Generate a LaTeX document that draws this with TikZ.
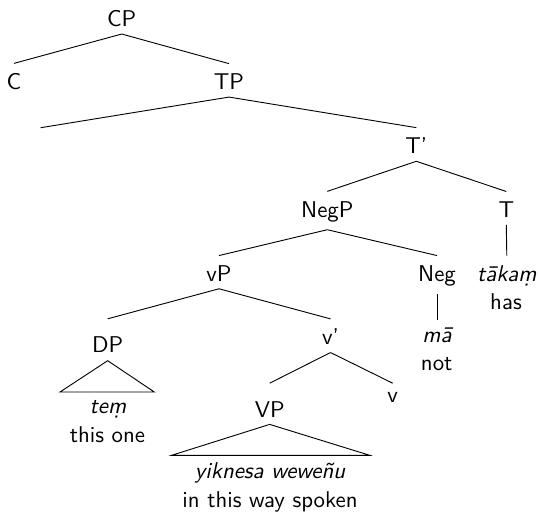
\documentclass[tikz,border=0pt]{standalone}
\begin{document}
\begin{tikzpicture}[x=0.438pt,y=-0.438pt,
  lab/.style={inner sep=0pt, anchor=base, font=\sffamily},
  leaf/.style={lab, font=\sffamily\itshape},
  branch/.style={draw, line width=0.4pt}]
\useasboundingbox (0,0) rectangle (538,513);
% labels
\node[lab] (cp) at (121.7,26) {CP};
\node[lab] (c) at (14,89.3) {C};
\node[lab] (tp) at (229,89.3) {TP};
\coordinate (tpspec) at (40.7,127.7);
\node[lab] (tbar) at (416.3,153.3) {T'};
\node[lab] (negp) at (327.3,217) {NegP};
\node[lab] (t) at (506.3,217) {T};
\node[lab] (vp) at (219,281) {vP};
\node[lab] (neg) at (437,281) {Neg};
\node[leaf] (tak) at (506.8,281) {tākaṃ};
\node[lab] (has) at (506,309.3) {has};
\node[lab] (dp) at (107.7,352) {DP};
\node[lab] (vbar) at (330.5,344.3) {v'};
\node[leaf] (ma) at (437,342.7) {mā};
\node[lab] (not) at (436.7,370.3) {not};
\node[leaf] (tem) at (108,413) {teṃ};
\node[lab] (thisone) at (107.5,442) {this one};
\node[lab] (bigvp) at (269.7,417.3) {VP};
\node[lab] (v) at (392.7,402.7) {v};
\node[leaf] (yik) at (270,478.7) {yiknesa weweñu};
\node[lab] (inthis) at (270,507) {in this way spoken};
\coordinate (dpl) at (60,392);
\coordinate (dpr) at (154.3,392);
\coordinate (vpl) at (171.7,455.3);
\coordinate (vpr) at (369.7,455.3);
% branches
\path[branch] ([yshift=-3.2pt]cp.south) -- ([yshift=4.1pt]c.north);
\path[branch] ([yshift=-3.2pt]cp.south) -- ([yshift=4.1pt]tp.north);
\path[branch] ([yshift=-3.2pt]tp.south) -- (tpspec);
\path[branch] ([yshift=-3.2pt]tp.south) -- ([yshift=4.1pt]tbar.north);
\path[branch] ([yshift=-3.3pt]tbar.south) -- ([yshift=4.1pt]negp.north);
\path[branch] ([yshift=-3.3pt]tbar.south) -- ([yshift=4.1pt]t.north);
\path[branch] ([yshift=-3.3pt]negp.south) -- ([yshift=4.0pt]vp.north);
\path[branch] ([yshift=-3.3pt]negp.south) -- ([yshift=4.0pt]neg.north);
\path[branch] ([yshift=-3.2pt]t.south) -- ([yshift=4.0pt]tak.north);
\path[branch] ([yshift=-3.2pt]vp.south) -- ([yshift=7.4pt]dp.north);
\path[branch] ([yshift=-3.2pt]vp.south) -- ([yshift=4.0pt]vbar.north);
\path[branch] ([yshift=-3.5pt]neg.south) -- ([yshift=3.3pt]ma.north);
\path[branch] ([yshift=-3.4pt]vbar.south) -- ([yshift=7.8pt]bigvp.north);
\path[branch] ([yshift=-3.4pt]vbar.south) -- ([yshift=3.9pt]v.north);
% triangles
\path[branch] ([yshift=-3.6pt]dp.south) -- (dpl) -- (dpr) -- cycle;
\path[branch] ([yshift=-2.9pt]bigvp.south) -- (vpl) -- (vpr) -- cycle;
\end{tikzpicture}
\end{document}
